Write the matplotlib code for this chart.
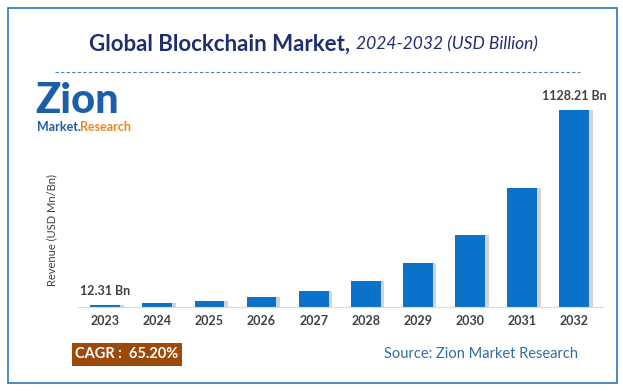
import matplotlib.pyplot as plt
from matplotlib.patches import Rectangle
import numpy as np

plt.rcParams['font.family'] = ['Lato', 'DejaVu Sans']

years = ['2023', '2024', '2025', '2026', '2027', '2028', '2029', '2030', '2031', '2032']
revenue = [12.31, 20.3, 33.6, 55.5, 91.7, 151.5, 250.3, 413.5, 683.1, 1128.21]
first_label = '12.31 Bn'
last_label = '1128.21 Bn'
cagr_text = 'CAGR :  65.20%'
source_text = 'Source: Zion Market Research'

W, H = 623, 391
fig = plt.figure(figsize=(W / 100, H / 100), dpi=100)

def fx(px):
    return px / W

def fy(py):
    return 1 - py / H

# outer blue frame
fig.patches.append(Rectangle((fx(8), fy(383)), fx(609), (375) / H, transform=fig.transFigure,
                             fill=False, edgecolor='#2f75b5', linewidth=1.2))

# title
fig.text(fx(350), fy(44), 'Global Blockchain Market,', ha='right', va='center',
         fontsize=16, fontweight='bold', color='#1f2e6e')
fig.text(fx(356), fy(44), '2024-2032 (USD Billion)', ha='left', va='center',
         fontsize=12.5, fontstyle='italic', color='#1f2e6e')

# dashed separator
fig.add_artist(plt.Line2D([fx(55), fx(580)], [fy(72), fy(72)], transform=fig.transFigure,
                          color='#4a7fc1', linestyle=(0, (3, 2)), linewidth=0.8))

# logo as text
fig.text(fx(35), fy(101), 'Zion', ha='left', va='center', fontsize=30, fontweight='black',
         color='#1a5fa8')
fig.text(fx(37), fy(127), 'Market.', ha='left', va='center', fontsize=9, fontweight='bold',
         color='#1a5fa8')
fig.text(fx(80), fy(127), 'Research', ha='left', va='center', fontsize=9, fontweight='bold',
         color='#e8891a')

# chart
x = np.arange(len(years))
ax = fig.add_axes([fx(78), fy(307), fx(603 - 78), (307 - 100) / H])
ax.bar(x + 0.07, revenue, width=0.57, color='#c8c8c8', alpha=0.8, zorder=1)
ax.bar(x, revenue, width=0.57, color='#0a73c9', zorder=2)
ax.set_xlim(-0.52, 9.55)
ax.set_ylim(0, max(revenue) * 1.05)
ax.set_xticks(x)
ax.set_xticklabels(years, fontsize=9, fontweight='bold', color='#404040')
ax.tick_params(axis='x', length=0, pad=6)
ax.set_yticks([])
for s in ['top', 'right', 'left']:
    ax.spines[s].set_visible(False)
ax.spines['bottom'].set_color('#d9d9d9')
fig.text(fx(52), fy(230), 'Revenue (USD Mn/Bn)', rotation=90, ha='center', va='center',
         fontsize=8, color='#404040')

ax.annotate(first_label, (x[0], revenue[0]), xytext=(0, 6), textcoords='offset points',
            ha='center', va='bottom', fontsize=9, fontweight='bold', color='#404040')
ax.annotate(last_label, (x[-1], revenue[-1]), xytext=(0, 6), textcoords='offset points',
            ha='center', va='bottom', fontsize=9, fontweight='bold', color='#404040',
            annotation_clip=False)

# CAGR box and source
fig.patches.append(Rectangle((fx(72), fy(366)), fx(110), 23 / H, transform=fig.transFigure,
                             facecolor='#9c4a0c', edgecolor='none'))
fig.text(fx(127), fy(354.5), cagr_text, ha='center', va='center', fontsize=10.5,
         fontweight='bold', color='white')
fig.text(fx(578), fy(354), source_text, ha='right', va='center', fontsize=10.5,
         color='#2e6da4')

fig.savefig('out.png', dpi=100)
